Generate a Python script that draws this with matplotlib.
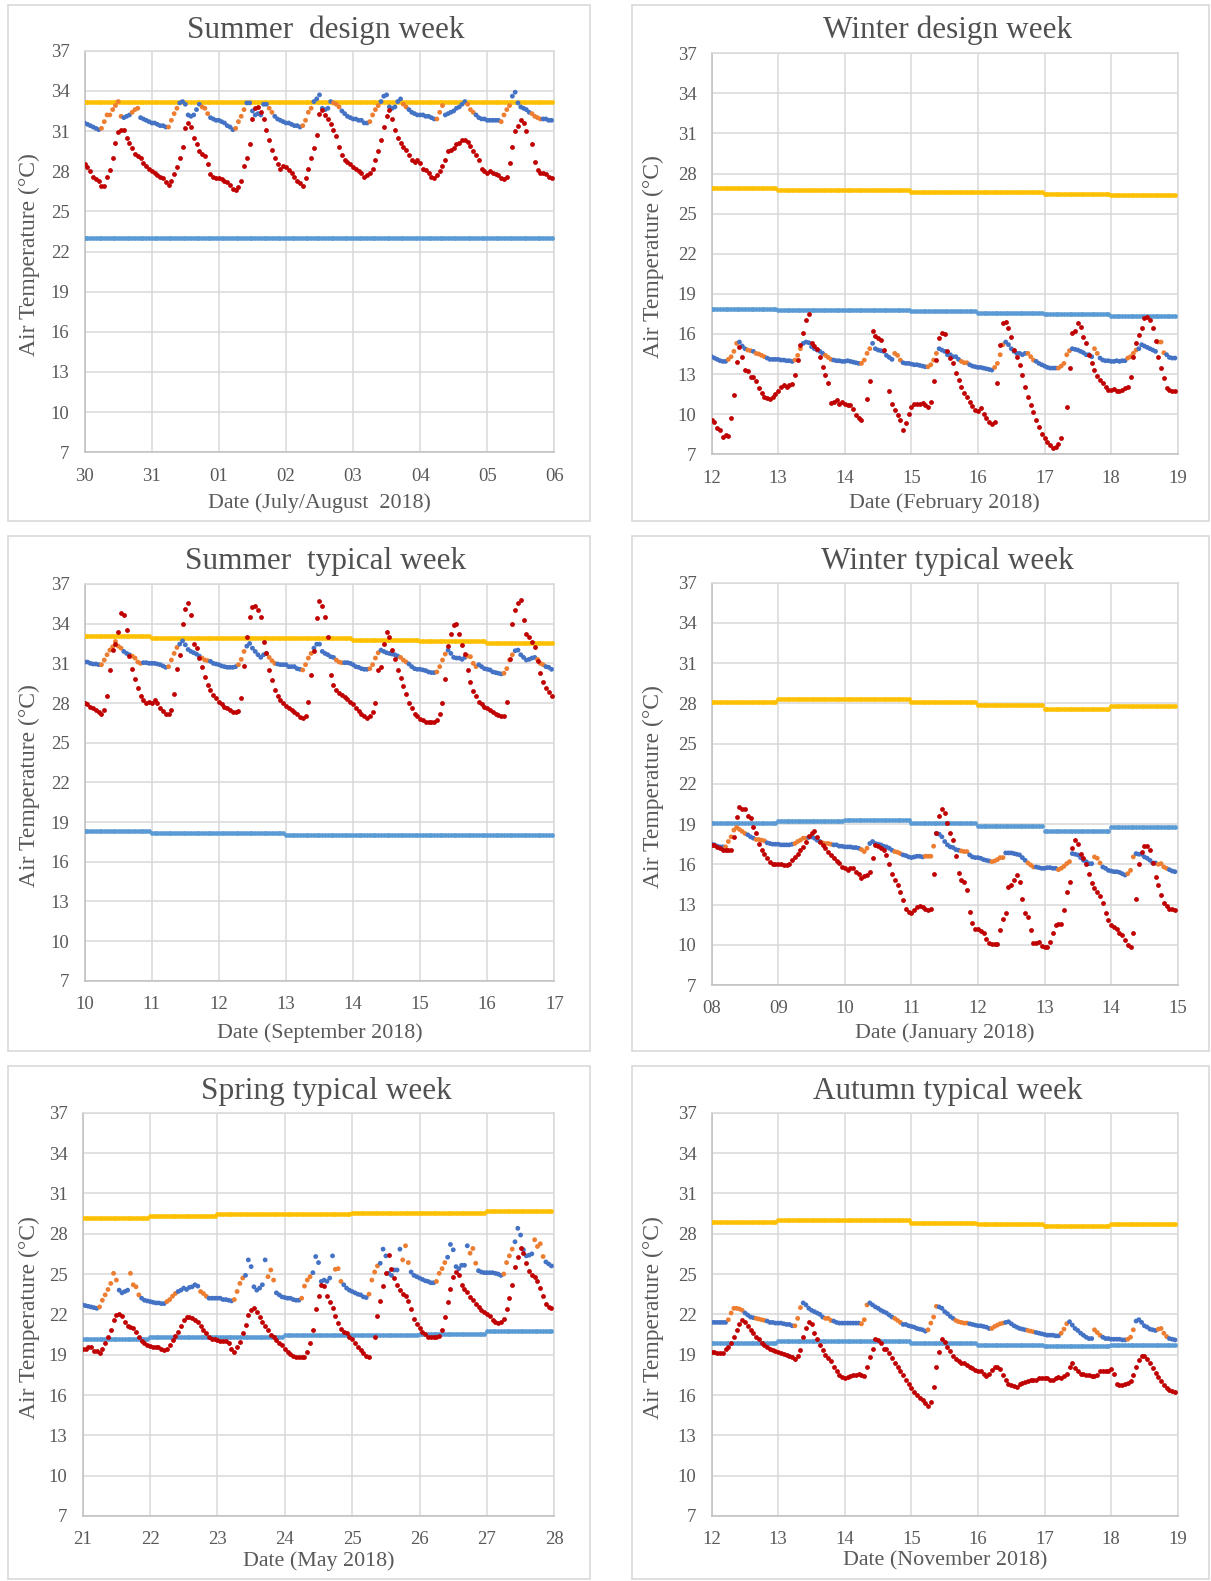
import matplotlib

matplotlib.use("Agg")
import matplotlib.pyplot as plt
import numpy as np
from matplotlib.patches import Rectangle

plt.rcParams["font.family"] = ["Liberation Serif", "DejaVu Serif"]

W, H = 1211, 1581

# ---------------- data (hourly readings, 7 days x 24 h) ----------------
# Summer design week, 30 July - 6 August 2018
SD_TICKS = ["30", "31", "01", "02", "03", "04", "05", "06"]
SD_UPPER = [33.2, 33.2, 33.2, 33.2, 33.2, 33.2, 33.2]
SD_LOWER = [23.0, 23.0, 23.0, 23.0, 23.0, 23.0, 23.0]
SD_INDOOR = [
    31.6, 31.5, 31.4, 31.3, 31.2, 31.1, 31.2, 31.7, 32.2, 32.2, 32.6, 32.9, 33.2, 32.1, 32.0, 32.1, 32.2, 32.4, 32.6, 32.7, 32.0, 31.9, 31.8, 31.7,
    31.6, 31.6, 31.5, 31.4, 31.4, 31.3, 31.3, 31.8, 32.3, 32.7, 33.1, 33.2, 33.0, 32.2, 32.1, 32.2, 32.6, 33.0, 32.8, 32.7, 32.3, 32.0, 31.9, 31.8,
    31.8, 31.7, 31.6, 31.4, 31.3, 31.1, 31.2, 31.7, 32.1, 32.6, 33.1, 33.1, 32.5, 32.2, 32.3, 32.2, 33.0, 33.0, 32.7, 32.4, 32.1, 31.9, 31.8, 31.7,
    31.6, 31.6, 31.5, 31.4, 31.4, 31.3, 31.4, 31.8, 32.4, 32.7, 33.2, 33.4, 33.7, 32.7, 32.6, 32.7, 33.2, 33.1, 33.0, 32.8, 32.5, 32.3, 32.1, 32.0,
    31.9, 31.9, 31.8, 31.8, 31.6, 31.6, 31.7, 32.2, 32.6, 32.9, 33.2, 33.6, 33.7, 32.8, 32.7, 32.8, 33.2, 33.4, 33.0, 32.8, 32.6, 32.4, 32.3, 32.2,
    32.2, 32.2, 32.1, 32.1, 32.0, 31.9, 31.9, 32.4, 32.9, 32.2, 32.3, 32.4, 32.5, 32.7, 32.8, 33.0, 33.2, 33.0, 32.6, 32.4, 32.2, 32.0, 31.9, 31.9,
    31.8, 31.8, 31.8, 31.8, 31.8, 31.7, 32.2, 32.6, 32.9, 33.6, 33.9, 33.1, 32.8, 32.7, 32.6, 32.4, 32.3, 32.1, 32.0, 31.9, 31.9, 31.9, 31.8, 31.8,
]
SD_OUTDOOR = [
    28.5, 28.3, 28.0, 27.6, 27.4, 27.3, 26.9, 26.9, 27.6, 28.1, 29.0, 30.1, 30.9, 31.1, 31.1, 30.5, 30.1, 29.7, 29.3, 29.1, 29.0, 28.6, 28.4, 28.2,
    28.0, 27.9, 27.7, 27.6, 27.5, 27.2, 27.0, 27.3, 27.8, 28.3, 29.0, 29.8, 31.2, 31.6, 31.3, 30.5, 30.0, 29.5, 29.3, 29.1, 28.5, 27.8, 27.6, 27.5,
    27.5, 27.4, 27.3, 27.2, 27.0, 26.7, 26.6, 26.8, 27.3, 28.4, 29.0, 30.0, 31.9, 32.7, 32.8, 32.4, 31.9, 31.1, 30.3, 29.6, 29.0, 28.5, 28.2, 28.4,
    28.3, 28.1, 27.9, 27.6, 27.3, 27.1, 26.9, 27.5, 28.2, 29.0, 29.7, 30.7, 32.3, 32.6, 32.2, 31.9, 31.5, 31.1, 30.6, 29.8, 29.2, 28.8, 28.7, 28.5,
    28.3, 28.2, 28.0, 27.9, 27.6, 27.7, 27.9, 28.2, 28.8, 29.5, 30.3, 31.3, 32.1, 32.6, 31.9, 31.1, 30.5, 30.1, 29.8, 29.6, 29.2, 28.8, 28.7, 28.8,
    28.6, 28.2, 28.1, 27.9, 27.6, 27.5, 27.7, 28.0, 28.4, 28.8, 29.5, 29.6, 29.7, 30.0, 30.1, 30.3, 30.3, 30.2, 29.9, 29.5, 29.2, 28.8, 28.2, 28.0,
    27.9, 28.0, 27.9, 27.8, 27.7, 27.5, 27.4, 27.6, 28.6, 29.8, 31.0, 31.4, 31.8, 31.6, 31.0, None, 30.0, 28.7, 28.1, 27.9, 27.9, 27.8, 27.6, 27.5,
]
SD_ORANGE = [(6, 13), (17, 19), (30, 33), (42, 44), (54, 57), (66, 67), (78, 81), (89, 91),
             (102, 105), (114, 115), (126, 128), (137, 139), (149, 152), (160, 163)]

# Winter design week, 12 - 19 February 2018
WD_TICKS = ["12", "13", "14", "15", "16", "17", "18", "19"]
WD_UPPER = [26.9, 26.8, 26.8, 26.65, 26.6, 26.5, 26.4]
WD_LOWER = [17.9, 17.8, 17.8, 17.7, 17.6, 17.5, 17.35]
WD_INDOOR = [
    14.3, 14.2, 14.1, 14.0, 13.95, 13.95, 14.1, 14.3, 14.7, 15.3, 15.4, 15.1, 14.9, 14.8, 14.75, 14.7, 14.55, 14.5, 14.4, 14.3, 14.2, 14.1, 14.1, 14.1,
    14.1, 14.05, 14.05, 14.0, 14.0, 13.95, 14.05, 14.4, 14.9, 15.3, 15.4, 15.35, 15.05, 14.9, 14.8, 14.7, 14.55, 14.4, 14.25, 14.1, 14.05, 14.0, 14.0, 13.95,
    13.95, 14.0, 13.95, 13.9, 13.85, 13.8, 13.8, 14.05, 14.55, 14.9, 15.3, 14.9, 14.8, 14.75, 14.7, 14.4, 14.25, 14.1, 14.55, 14.4, 14.05, 13.85, 13.8, 13.8,
    13.75, 13.7, 13.7, 13.65, 13.6, 13.55, 13.55, 13.7, 14.05, 14.55, 14.9, 14.8, 14.7, 14.45, 14.45, 14.3, 14.3, 14.1, 13.95, 13.85, 13.85, 13.7, 13.6, 13.55,
    13.5, 13.5, 13.45, 13.4, 13.35, 13.3, 13.5, 13.8, 14.45, 15.2, 15.4, 15.2, 14.9, 14.7, 14.55, 14.55, 14.45, 14.55, 14.55, 14.3, 14.05, 13.95, 13.8, 13.7,
    13.6, 13.5, 13.45, 13.45, 13.45, 13.45, 13.6, 13.8, 14.45, 14.75, 14.9, 14.85, 14.8, 14.7, 14.6, 14.45, 14.45, 14.3, 14.9, 14.55, 14.2, 14.05, 14.0, 14.0,
    13.95, 13.95, 14.0, 13.95, 14.0, 14.0, 14.2, 14.3, 14.55, 14.8, 14.9, 15.2, 15.1, 15.0, 14.9, 14.8, 14.7, 15.4, 15.4, 14.6, 14.45, 14.25, 14.2, 14.2,
]
WD_OUTDOOR = [
    9.6, 9.45, 8.95, 8.8, 8.3, 8.45, 8.4, 9.7, 11.4, 13.9, 15.05, 14.25, 13.3, 13.2, 12.8, 12.75, 12.45, 11.95, 11.55, 11.3, 11.2, 11.1, 11.3, 11.5,
    11.7, 12.0, 12.2, 12.05, 12.2, 12.25, 12.9, 14.05, 15.2, 16.05, 17.05, 17.5, 15.3, 15.1, 14.9, 14.3, 13.55, 12.9, 12.3, 10.85, 10.95, 11.05, 10.8, 10.95,
    10.75, 10.7, 10.7, 10.4, 9.95, 9.7, 9.55, None, 11.1, 12.45, 16.2, 15.85, 15.7, 15.55, 14.8, None, 11.7, 10.8, 10.3, 9.95, 9.55, 8.8, 9.35, 10.05,
    10.55, 10.75, 10.75, 10.8, 10.85, 10.7, 10.55, 10.95, 12.45, 14.05, 15.7, 16.05, 16.0, 14.7, 14.2, 13.85, 13.05, 12.55, 12.05, 11.6, 11.25, 10.95, 10.6, 10.3,
    10.25, 10.45, 10.05, 9.7, 9.45, 9.3, 9.45, 12.3, 15.2, 16.8, 16.9, 16.45, 15.8, 14.8, 14.3, 13.7, 12.95, 12.05, 11.3, 10.7, 10.2, 9.55, 9.05, 8.55,
    8.25, 7.95, 7.7, 7.45, 7.55, 7.8, 8.2, None, 10.55, 13.45, 16.05, 16.2, 16.85, 16.55, 15.8, 15.3, 14.45, 13.8, 13.3, 12.85, 12.55, 12.3, 12.05, 11.8,
    11.8, 11.85, 11.75, 11.7, 11.8, 11.95, 12.05, 12.8, 14.3, 15.3, 15.95, 16.45, 17.2, 17.25, 17.05, 16.45, 15.45, 14.3, 13.45, 12.7, 11.95, 11.8, 11.75, 11.7,
]
WD_ORANGE = [(6, 9), (13, 14), (16, 19), (30, 32), (41, 43), (54, 57), (66, 68), (78, 81), (90, 92),
             (102, 105), (114, 116), (125, 129), (138, 139), (150, 153), (161, 163)]

# Summer typical week, 10 - 17 September 2018
ST_TICKS = ["10", "11", "12", "13", "14", "15", "16", "17"]
ST_UPPER = [33.05, 32.95, 32.9, 32.9, 32.8, 32.7, 32.55]
ST_LOWER = [18.3, 18.2, 18.15, 18.05, 18.0, 18.0, 18.0]
ST_INDOOR = [
    31.1, 31.1, 31.0, 30.95, 30.95, 30.9, 30.9, 31.25, 31.65, 32.0, 32.25, 32.65, 32.3, 32.15, 31.9, 31.75, 31.65, 31.55, 31.4, 31.1, 31.0, 31.05, 31.05, 31.0,
    31.0, 31.0, 30.95, 30.9, 30.8, 30.7, 30.75, 31.25, 31.75, 32.2, 32.45, 32.7, 32.4, 32.05, 31.9, 31.8, 31.7, 31.55, 31.4, 31.25, 31.2, 31.15, 31.0, 30.95,
    30.9, 30.8, 30.75, 30.7, 30.7, 30.7, 30.75, 30.9, 31.3, 31.9, 32.3, 32.5, 32.15, 31.9, 31.65, 31.45, 31.65, 31.75, 31.45, 31.2, 31.0, 30.95, 30.9, 30.9,
    30.9, 30.75, 30.75, 30.75, 30.6, 30.55, 30.5, 30.9, 31.4, 31.75, 32.15, 32.45, 32.45, 31.9, 31.75, 31.65, 31.5, 31.45, 31.25, 31.1, 31.05, 31.05, 31.05, 31.0,
    30.9, 30.75, 30.7, 30.6, 30.55, 30.55, 30.6, 30.9, 31.4, 31.8, 32.0, 31.9, 31.8, 31.75, 31.7, 31.65, 31.55, 31.45, 31.25, 31.1, 30.95, 30.75, 30.6, 30.55,
    30.55, 30.5, 30.45, 30.35, 30.3, 30.3, 30.35, 30.75, 31.25, 31.7, 32.0, 31.75, 31.45, 31.4, 31.4, 31.3, 31.45, 31.55, 31.5, 31.0, 30.75, 30.9, 30.75, 30.6,
    30.55, 30.5, 30.35, 30.3, 30.25, 30.2, 30.25, 30.6, 31.25, 31.65, 31.95, 32.0, 31.65, 31.45, 31.25, 31.3, 31.4, 31.45, 31.3, 31.0, 30.9, 30.75, 30.7, 30.55,
]
ST_OUTDOOR = [
    28.0, 27.9, 27.7, 27.6, 27.5, 27.35, 27.2, 27.5, 28.5, 30.5, 32.0, 32.5, 33.4, 34.8, 34.65, 33.5, 31.55, 30.6, 29.85, 29.1, 28.5, 28.2, 28.0, 28.1,
    28.0, 28.2, 28.0, 27.65, 27.4, 27.15, 27.15, 27.5, 28.7, 30.6, 31.6, 34.0, 35.1, 35.55, 34.65, 32.45, 32.15, 31.4, 30.7, 29.95, 29.35, 29.0, 28.6, 28.35,
    28.1, 27.9, 27.7, 27.6, 27.5, 27.35, 27.35, 27.4, 28.35, 30.8, 33.0, 34.5, 35.25, 35.35, 35.05, 34.5, 32.65, 31.75, 30.5, 29.75, 28.95, 28.55, 28.2, 28.0,
    27.8, 27.65, 27.5, 27.35, 27.15, 26.95, 26.85, 27.0, 28.1, 30.1, 31.9, 34.4, 35.7, 35.35, 34.5, 33.0, 30.1, 29.35, 29.0, 28.75, 28.6, 28.45, 28.3, 28.1,
    27.9, 27.65, 27.4, 27.2, 27.0, 26.9, 27.0, 27.3, 28.0, 30.5, 30.7, 32.5, 33.4, 33.0, 32.0, 31.3, 30.5, 29.9, 29.3, 28.7, 28.0, 27.6, 27.2, 27.0,
    26.8, 26.7, 26.6, 26.55, 26.55, 26.55, 26.7, 27.2, 28.0, 29.8, 32.3, 33.2, 33.9, 34.0, 33.2, 32.4, 31.7, 30.5, 29.6, 28.9, 28.5, 28.1, 27.9, 27.7,
    27.6, 27.5, 27.3, 27.2, 27.1, 27.05, 27.0, 28.1, 31.3, 34.0, 35.0, 35.6, 35.8, 34.3, 33.2, 33.0, 32.6, 32.2, 31.2, 30.3, 29.6, 29.1, 28.8, 28.5,
]
ST_ORANGE = [(6, 13), (17, 20), (30, 33), (42, 44), (55, 57), (66, 68), (78, 81), (90, 92),
             (102, 105), (113, 115), (126, 129), (137, 140), (150, 153), (162, 164)]

# Winter typical week, 8 - 15 January 2018
WT_TICKS = ["08", "09", "10", "11", "12", "13", "14", "15"]
WT_UPPER = [28.1, 28.35, 28.35, 28.1, 27.85, 27.55, 27.8]
WT_LOWER = [19.1, 19.2, 19.3, 19.05, 18.85, 18.45, 18.75]
WT_INDOOR = [
    17.5, 17.45, 17.35, 17.3, 17.3, 17.3, 17.7, 18.05, 18.55, 18.75, 18.6, 18.45, 18.3, 18.2, 18.05, 17.95, 17.85, 17.85, 17.8, 17.75, 17.6, 17.55, 17.5, 17.5,
    17.5, 17.45, 17.45, 17.45, 17.45, 17.5, 17.55, 17.7, 17.8, 17.95, 17.95, 18.0, 18.05, 17.95, 17.8, 17.7, 17.6, 17.55, 17.55, 17.5, 17.45, 17.45, 17.35, 17.35,
    17.3, 17.3, 17.3, 17.25, 17.25, 17.2, 17.1, 16.95, 17.2, 17.55, 17.7, 17.55, 17.5, 17.45, 17.35, 17.3, 17.2, 17.05, 16.95, 16.9, 16.8, 16.7, 16.65, 16.55,
    16.5, 16.55, 16.6, 16.6, 16.55, 16.6, 16.6, 16.6, 17.35, 18.3, 18.25, 18.05, 17.7, 17.45, 17.3, 17.25, 17.1, 17.05, 17.0, 16.95, 16.95, 16.7, 16.55, 16.5,
    16.5, 16.45, 16.35, 16.3, 16.25, 16.2, 16.25, 16.35, 16.5, 16.5, 16.85, 16.85, 16.85, 16.8, 16.75, 16.7, 16.5, 16.3, 16.1, 15.95, 15.8, 15.8, 15.75, 15.7,
    15.7, 15.75, 15.75, 15.7, 15.7, 15.6, 15.7, 15.85, 16.05, 16.2, 16.8, 16.75, 16.7, 16.5, 16.3, 16.2, 16.05, 16.05, 16.55, 16.45, 16.1, 15.8, 15.7, 15.55,
    15.5, 15.45, 15.45, 15.4, 15.3, 15.2, 15.3, 15.55, 16.55, 16.8, 16.75, 16.75, 16.55, 16.45, 16.3, 16.1, 16.1, 16.0, 16.05, 15.8, 15.7, 15.6, 15.5, 15.45,
]
WT_OUTDOOR = [
    17.45, 17.45, 17.3, 17.2, 17.1, 17.05, 17.05, 17.05, 18.05, 19.55, 20.25, 20.15, 20.1, 19.6, 19.45, 18.8, 18.3, 17.55, 17.1, 16.75, 16.45, 16.2, 16.05, 16.05,
    16.0, 16.0, 15.95, 15.95, 16.05, 16.3, 16.55, 16.75, 17.05, 17.3, 17.7, 18.1, 18.3, 18.5, 18.05, 17.7, 17.45, 17.2, 16.95, 16.7, 16.45, 16.25, 16.1, 15.8,
    15.7, 15.6, 15.75, 15.75, 15.45, 15.3, 14.95, 15.15, 15.2, 15.45, 16.45, 17.45, 17.35, 17.25, 17.05, 16.7, 16.05, 15.3, 14.8, 14.45, 13.95, 13.35, 12.7, 12.45,
    12.4, 12.6, 12.85, 12.9, 12.85, 12.65, 12.6, 12.7, 15.3, 18.3, 19.6, 20.1, 19.8, 19.05, 18.3, 17.85, 16.6, 15.35, 14.85, 14.7, 14.1, 12.45, 11.6, 11.2,
    11.15, 11.05, 10.85, 10.4, 10.15, 10.05, 10.05, 10.05, 11.1, 11.95, 12.35, 14.3, 14.45, 14.85, 15.2, 14.7, 13.45, 12.4, 12.05, 11.1, 10.15, 10.1, 10.2, 9.9,
    9.8, 9.8, 10.2, 10.85, 11.45, 11.55, 11.55, 12.6, 13.9, 14.7, 17.2, 17.85, 17.5, 16.8, 16.5, 16.05, 15.25, 14.6, 14.2, 13.95, 13.6, 13.1, 12.35, 11.85,
    11.45, 11.3, 11.15, 10.9, 10.7, 10.35, 9.95, 9.85, 10.9, 13.45, 16.05, 16.9, 17.4, 17.35, 17.05, 16.1, 15.05, 14.45, 13.7, 13.1, 12.9, 12.7, 12.65, 12.6,
]
WT_ORANGE = [(5, 12), (16, 19), (30, 34), (40, 43), (54, 56), (66, 68), (77, 80), (90, 92),
             (101, 105), (114, 116), (125, 129), (138, 140), (150, 152), (161, 164)]

# Spring typical week, 21 - 28 May 2018
SP_TICKS = ["21", "22", "23", "24", "25", "26", "27", "28"]
SP_UPPER = [29.2, 29.3, 29.45, 29.45, 29.55, 29.55, 29.7]
SP_LOWER = [20.15, 20.3, 20.3, 20.45, 20.45, 20.55, 20.75]
SP_INDOOR = [
    22.7, 22.65, 22.6, 22.55, 22.5, 22.45, 22.55, 23.05, 23.45, 23.85, 24.3, 25.05, 24.55, 23.8, 23.6, 23.7, 23.8, 25.05, 24.2, 24.05, 23.45, 23.2, 23.05, 23.0,
    22.95, 22.9, 22.85, 22.85, 22.8, 22.8, 22.95, 23.1, 23.35, 23.55, 23.7, 23.8, 23.95, 23.85, 24.0, 24.05, 24.2, 24.1, 23.7, 23.55, 23.35, 23.2, 23.2, 23.2,
    23.2, 23.2, 23.1, 23.1, 23.05, 23.0, 23.1, 23.7, 24.3, 24.7, 24.9, 26.05, 25.55, 24.05, 23.8, 23.95, 24.2, 26.05, 24.8, 25.3, 24.55, 23.6, 23.45, 23.3,
    23.25, 23.2, 23.2, 23.1, 23.05, 23.05, 23.2, 24.1, 24.55, 24.8, 25.1, 26.3, 25.85, 24.45, 24.55, 24.45, 24.7, 26.35, 25.35, 25.4, 24.45, 24.2, 23.95, 23.8,
    23.7, 23.6, 23.5, 23.45, 23.3, 23.25, 23.5, 24.55, 25.15, 25.6, 25.8, 26.85, 26.35, 25.05, 24.9, 25.3, 25.3, 26.85, 26.05, 27.1, 25.85, 25.15, 24.9, 24.8,
    24.7, 24.6, 24.5, 24.45, 24.35, 24.35, 24.45, 25.05, 25.4, 25.85, 26.25, 27.2, 26.8, 25.55, 25.4, 25.65, 25.65, 27.1, 26.55, 26.9, 25.8, 25.25, 25.15, 25.1,
    25.1, 25.1, 25.1, 25.05, 25.0, 24.9, 25.0, 25.85, 26.35, 26.85, 27.4, 28.4, 27.9, 26.8, 26.35, 26.4, 26.5, 27.55, 27.05, 27.25, 26.3, 25.9, 25.75, 25.6,
]
SP_OUTDOOR = [
    19.4, 19.4, 19.55, 19.6, 19.3, 19.3, 19.1, 19.45, 19.85, 20.3, 20.85, 21.55, 21.95, 22.05, 21.9, 21.45, 21.1, 21.05, 20.95, 20.7, 20.35, 20.05, 19.85, 19.7,
    19.65, 19.6, 19.6, 19.55, 19.4, 19.35, 19.4, 19.7, 20.1, 20.4, 20.7, 21.1, 21.55, 21.8, 21.8, 21.7, 21.55, 21.4, 21.1, 20.85, 20.6, 20.35, 20.2, 20.15,
    20.1, 20.05, 20.05, 20.05, 19.85, 19.45, 19.2, 19.6, 19.95, 20.6, 21.2, 21.95, 22.35, 22.5, 22.2, 21.8, 21.45, 21.15, 20.85, 20.45, 20.3, 20.1, 19.9, 19.7,
    19.45, 19.2, 19.05, 18.9, 18.85, 18.8, 18.8, 18.85, 19.2, 19.9, 20.8, 22.4, 23.35, 24.2, 24.1, 23.4, 22.9, 22.5, 21.9, 21.35, 20.9, 20.7, 20.6, 20.3,
    20.15, 19.85, 19.6, 19.35, 19.1, 18.9, 18.85, None, 20.3, 21.9, 23.0, 24.1, 25.1, 26.4, 25.4, 24.7, 24.2, 23.8, 23.55, 23.4, 23.0, 22.4, 21.65, 21.25,
    20.95, 20.65, 20.55, 20.35, 20.3, 20.3, 20.3, 20.4, 20.8, 21.8, 22.9, 23.9, 24.75, 25.15, 24.9, 24.15, 23.9, 23.65, 23.3, 23.05, 22.8, 22.55, 22.35, 22.2,
    22.05, 21.85, 21.6, 21.45, 21.35, 21.45, 21.65, 22.4, 23.2, 24.2, 25.5, 26.3, 26.95, 26.6, 25.8, 25.2, 24.9, 24.8, 24.45, 23.95, 23.35, 22.8, 22.55, 22.5,
]
SP_ORANGE = [(6, 12), (17, 20), (30, 33), (42, 44), (54, 57), (66, 68), (78, 81), (90, 92),
             (102, 105), (114, 116), (126, 129), (138, 140), (150, 153), (161, 164)]

# Autumn typical week, 12 - 19 November 2018
AU_TICKS = ["12", "13", "14", "15", "16", "17", "18", "19"]
AU_UPPER = [28.9, 29.0, 29.0, 28.8, 28.7, 28.6, 28.7]
AU_LOWER = [19.85, 20.05, 20.0, 19.85, 19.75, 19.65, 19.75]
AU_INDOOR = [
    21.4, 21.4, 21.4, 21.4, 21.4, 21.4, 21.6, 22.1, 22.45, 22.45, 22.4, 22.3, 22.1, 21.95, 21.8, 21.75, 21.7, 21.65, 21.6, 21.55, 21.5, 21.4, 21.4, 21.35,
    21.35, 21.35, 21.3, 21.25, 21.25, 21.15, 21.15, 21.7, 22.5, 22.85, 22.7, 22.45, 22.3, 22.2, 22.1, 22.0, 21.8, 21.7, 21.7, 21.55, 21.5, 21.4, 21.35, 21.35,
    21.35, 21.35, 21.35, 21.35, 21.35, 21.35, 21.3, 21.6, 22.7, 22.85, 22.7, 22.55, 22.45, 22.3, 22.2, 22.1, 21.95, 21.8, 21.7, 21.55, 21.4, 21.25, 21.25, 21.15,
    21.1, 21.05, 20.95, 20.9, 20.85, 20.75, 20.85, 21.35, 21.8, 22.6, 22.55, 22.45, 22.2, 22.05, 21.85, 21.7, 21.55, 21.45, 21.4, 21.35, 21.35, 21.3, 21.25, 21.2,
    21.15, 21.15, 21.1, 21.05, 20.95, 20.95, 21.1, 21.2, 21.3, 21.35, 21.4, 21.45, 21.3, 21.15, 21.05, 20.95, 20.9, 20.85, 20.8, 20.75, 20.7, 20.65, 20.6, 20.55,
    20.5, 20.45, 20.45, 20.45, 20.4, 20.4, 20.6, 20.9, 21.3, 21.45, 21.2, 20.95, 20.8, 20.6, 20.45, 20.3, 20.2, 20.2, 20.85, 20.65, 20.45, 20.3, 20.2, 20.2,
    20.15, 20.15, 20.15, 20.15, 20.1, 20.1, 20.15, 20.3, 20.85, 21.5, 21.6, 21.4, 21.15, 21.05, 20.9, 20.85, 20.8, 20.9, 20.95, 20.6, 20.35, 20.2, 20.15, 20.1,
]
AU_OUTDOOR = [
    19.2, 19.2, 19.15, 19.15, 19.1, 19.45, 19.6, 19.85, 20.3, 20.85, 21.3, 21.6, 21.45, 21.1, 20.85, 20.6, 20.35, 20.15, 19.9, 19.7, 19.6, 19.45, 19.35, 19.3,
    19.2, 19.15, 19.05, 19.0, 18.9, 18.8, 18.65, 18.9, 19.35, 20.35, 20.95, 21.45, 21.3, 20.6, 20.2, 19.7, 19.35, 19.0, 18.75, 18.5, 18.1, 17.75, 17.5, 17.35,
    17.3, 17.35, 17.4, 17.5, 17.5, 17.55, 17.5, 17.4, 18.1, 18.85, 19.45, 20.15, 20.1, 19.85, 19.45, 19.4, 19.1, 18.75, 18.35, 18.1, 17.75, 17.5, 17.1, 16.8,
    16.55, 16.25, 16.0, 15.75, 15.6, 15.4, 15.2, 15.5, 16.6, 18.1, 19.2, 20.15, 19.95, 19.6, 19.3, 18.9, 18.65, 18.55, 18.4, 18.35, 18.25, 18.1, 18.0, 17.85,
    17.75, 17.75, 17.55, 17.4, 17.55, 17.85, 18.05, 18.1, 17.9, 17.5, 17.1, 16.85, 16.75, 16.65, 16.6, 16.8, 16.9, 17.0, 17.05, 17.1, 17.1, 17.15, 17.25, 17.3,
    17.3, 17.25, 17.1, 17.15, 17.25, 17.35, 17.3, 17.4, 17.55, 18.1, 18.4, 18.0, 17.75, 17.6, 17.55, 17.5, 17.5, 17.4, 17.4, 17.5, 17.75, 17.8, 17.8, 17.8,
    17.9, 17.6, 16.85, 16.75, 16.75, 16.8, 16.9, 17.05, 17.5, 18.1, 18.6, 18.9, 18.9, 18.65, 18.35, 18.0, 17.65, 17.35, 17.05, 16.75, 16.5, 16.35, 16.3, 16.25,
]
AU_ORANGE = [(6, 11), (16, 19), (30, 32), (41, 43), (54, 56), (66, 68), (78, 81), (88, 92),
             (101, 105), (114, 116), (126, 128), (138, 140), (150, 152), (161, 164)]

TITLES = ["Summer  design week", "Winter design week", "Summer  typical week",
          "Winter typical week", "Spring typical week", "Autumn typical week"]
XLABELS = ["Date (July/August  2018)", "Date (February 2018)", "Date (September 2018)",
           "Date (January 2018)", "Date (May 2018)", "Date (November 2018)"]

# ---------------- styling / layout ----------------
TEXT = "#595959"
TITLE_TEXT = "#505050"
GRID = "#d9d9d9"
C_RED = "#c00000"
C_BLUE = "#4472c4"
C_ORANGE = "#ed7d31"
C_UPPER = "#ffc000"
C_LOWER = "#5b9bd5"

# plot-area boxes in pixels: left, right, top, bottom
AXES_PX = [
    (84.7, 554.3, 50.7, 452.3),
    (711.7, 1177.7, 53.3, 454.3),
    (84.7, 554.3, 584.0, 980.7),
    (711.7, 1177.7, 582.7, 985.0),
    (82.7, 554.3, 1112.7, 1516.0),
    (711.7, 1177.7, 1112.7, 1516.0),
]
# chart-area frames: left, right, top, bottom
FRAMES_PX = [
    (8, 590, 5, 521), (632, 1209, 5, 521),
    (8, 590, 536, 1051), (632, 1209, 536, 1051),
    (8, 590, 1066, 1579), (632, 1209, 1066, 1579),
]

PANELS = [
    (SD_TICKS, SD_UPPER, SD_LOWER, SD_INDOOR, SD_OUTDOOR, SD_ORANGE),
    (WD_TICKS, WD_UPPER, WD_LOWER, WD_INDOOR, WD_OUTDOOR, WD_ORANGE),
    (ST_TICKS, ST_UPPER, ST_LOWER, ST_INDOOR, ST_OUTDOOR, ST_ORANGE),
    (WT_TICKS, WT_UPPER, WT_LOWER, WT_INDOOR, WT_OUTDOOR, WT_ORANGE),
    (SP_TICKS, SP_UPPER, SP_LOWER, SP_INDOOR, SP_OUTDOOR, SP_ORANGE),
    (AU_TICKS, AU_UPPER, AU_LOWER, AU_INDOOR, AU_OUTDOOR, AU_ORANGE),
]


def draw_panel(fig, idx):
    ticks, upper, lower, indoor, outdoor, orange = PANELS[idx]
    left, right, top, bottom = AXES_PX[idx]
    ax = fig.add_axes([left / W, 1 - bottom / H, (right - left) / W, (bottom - top) / H])

    hours = np.arange(168) / 24.0
    indoor = np.array(indoor, dtype=float)
    outdoor = np.array(outdoor, dtype=float)
    is_orange = np.zeros(168, dtype=bool)
    for a, b in orange:
        is_orange[a:b + 1] = True
    colors = np.where(is_orange, C_ORANGE, C_BLUE)

    s = 12
    ax.scatter(hours, np.repeat(upper, 24), s=s, color=C_UPPER, lw=0, zorder=3)
    ax.scatter(hours, np.repeat(lower, 24), s=s, color=C_LOWER, lw=0, zorder=3)
    ax.scatter(hours, indoor, s=s, c=colors, lw=0, zorder=4)
    ax.scatter(hours, outdoor, s=s, color=C_RED, lw=0, zorder=5)

    ax.set_xlim(0, 7)
    ax.set_ylim(7, 37)
    ax.set_xticks(range(8))
    ax.set_xticklabels(ticks)
    ax.set_yticks(range(7, 38, 3))
    ax.grid(True, color=GRID, lw=1.1)
    ax.set_axisbelow(True)
    ax.tick_params(length=0, labelsize=13.5, colors=TEXT)
    ax.tick_params(axis="x", pad=11)
    ax.tick_params(axis="y", pad=11)
    for side in ("top", "right"):
        ax.spines[side].set_color(GRID)
        ax.spines[side].set_linewidth(1.1)
    for side in ("left", "bottom"):
        ax.spines[side].set_color("#bfbfbf")
        ax.spines[side].set_linewidth(1.1)

    cx = (left + right) / 2
    fl, fr, ft, fb = FRAMES_PX[idx]
    fig.text(((fl + fr) / 2 + 27) / W, 1 - (ft + 25) / H, TITLES[idx], ha="center", va="center",
             fontsize=22.5, color=TITLE_TEXT)
    fig.text(cx / W, 1 - (fb - 18) / H, XLABELS[idx], ha="center", va="center",
             fontsize=15.8, color=TEXT)
    fig.text((fl + 21) / W, 1 - ((top + bottom) / 2 + 3) / H, "Air Temperature (°C)", ha="center",
             va="center", rotation=90, fontsize=17, color=TEXT)


def main():
    fig = plt.figure(figsize=(W / 100, H / 100), dpi=100)
    for fl, fr, ft, fb in FRAMES_PX:
        fig.add_artist(Rectangle((fl / W, 1 - fb / H), (fr - fl) / W, (fb - ft) / H,
                                 transform=fig.transFigure, fill=False, ec=GRID, lw=1.2))
    for idx in range(6):
        draw_panel(fig, idx)
    fig.savefig("out.png", dpi=100)


if __name__ == "__main__":
    main()
